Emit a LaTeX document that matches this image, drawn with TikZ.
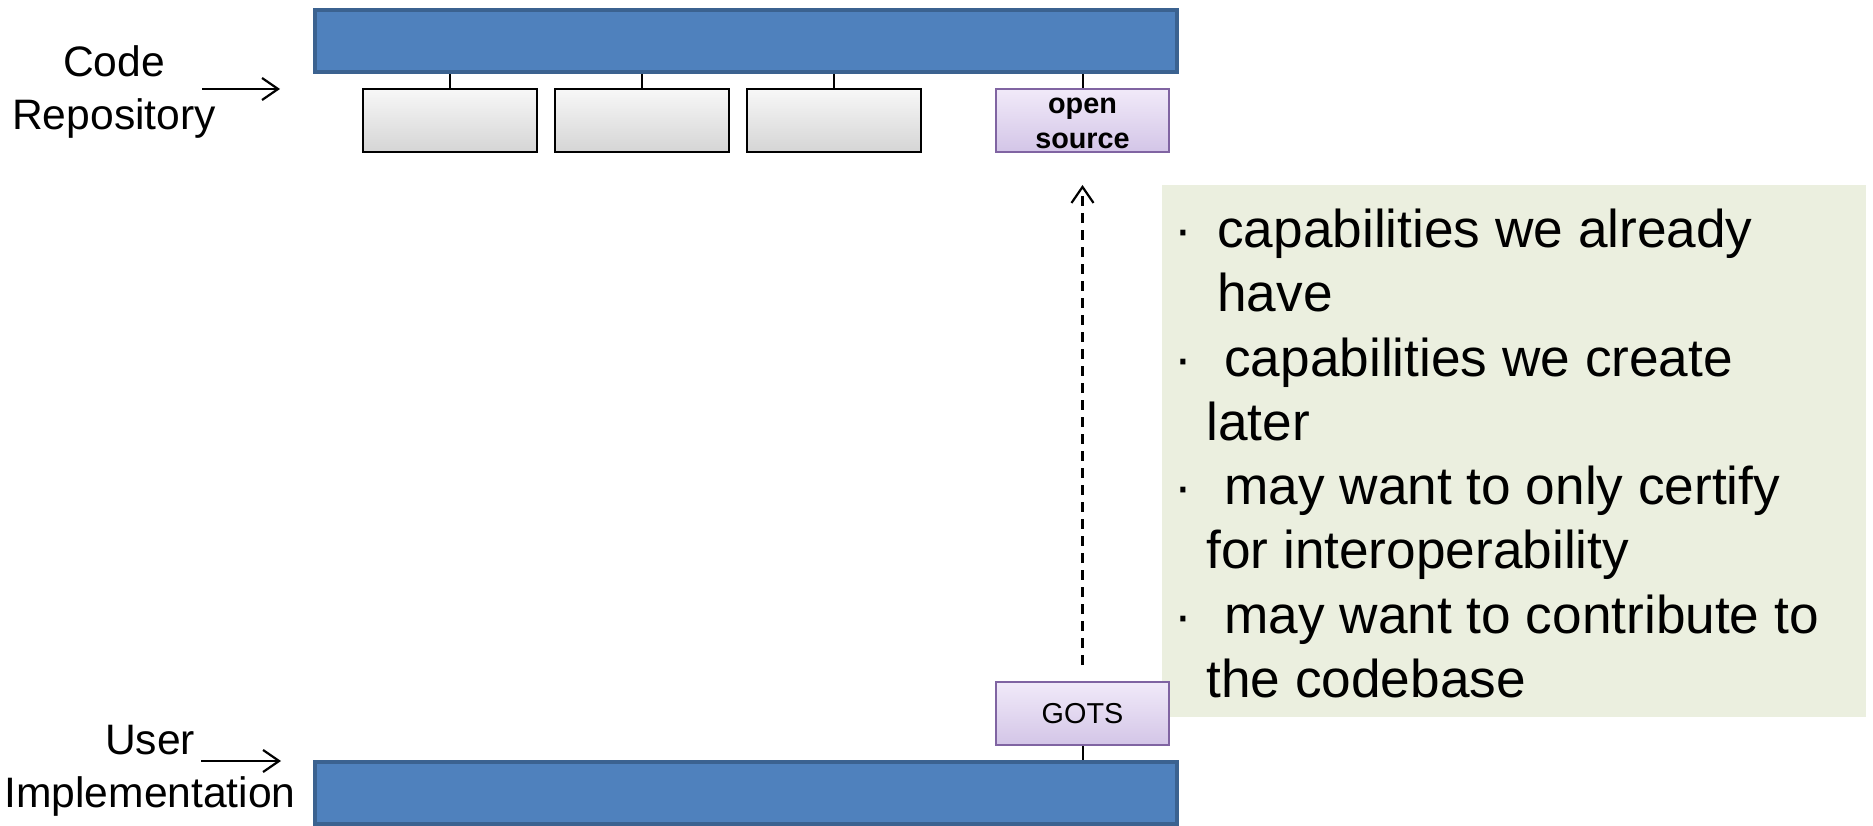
\documentclass[tikz,border=0pt]{standalone}
\usepackage{fontspec}
\setmainfont{Liberation Sans}
\usetikzlibrary{positioning,arrows.meta}
\pgfdeclarelayer{background}
\pgfsetlayers{background,main}

\definecolor{barblue}{HTML}{4F81BD}
\definecolor{baredge}{HTML}{3B6290}
\definecolor{notegreen}{HTML}{EBEFDF}
\definecolor{lilacedge}{HTML}{8064A2}
\definecolor{lilactop}{HTML}{F1EAF9}
\definecolor{lilacbot}{HTML}{D3C5E7}

\newcommand{\notedot}[1]{\makebox[#1][l]{\hspace*{-2.8pt}·}}

\begin{document}
\begin{tikzpicture}[x=0.5pt, y=0.5pt,
		bar/.style={draw=baredge, fill=barblue, line width=2.2pt, minimum width=430.8pt, minimum height=30.8pt, inner sep=0pt},
		module/.style={draw=black, line width=1pt, top color=gray!6, bottom color=gray!33, minimum width=87pt, minimum height=31.5pt, inner sep=0pt},
		lilac/.style={draw=lilacedge, line width=0.9pt, top color=lilactop, bottom color=lilacbot, minimum width=86.6pt, minimum height=31.6pt, inner sep=0pt, align=center},
		note/.style={fill=notegreen, minimum width=352pt, minimum height=266pt, inner sep=0pt},
		lbl/.style={align=center, inner sep=0pt, font=\fontsize{21.3}{26.3}\selectfont},
		link/.style={line width=1pt},
		pointer/.style={line width=1.1pt, -{Straight Barb[length=8pt,width=11pt]}},
		node distance=8pt]
	\useasboundingbox (0,0) rectangle (1873,825);

	\node[bar] (repo) at (746,784) {};
	\node[bar] (impl) at (746,32) {};

	\node[module] (modA) at (450,704.5) {};
	\node[module, right=of modA] (modB) {};
	\node[module, right=of modB] (modC) {};
	\node[lilac, right=36.5pt of modC, font=\fontsize{14.4}{17.6}\selectfont\bfseries] (oss) {\vphantom{d}open\\source};
	\node[lilac, below=264pt of oss, font=\fontsize{14.4}{17.3}\selectfont] (gots) {GOTS};

	\foreach \m in {modA,modB,modC,oss}
		\draw[link] (\m.north) -- (\m.north |- repo.south);
	\draw[link] (gots.south) -- (gots.south |- impl.north);
	\draw[pointer, dash pattern=on 5pt off 3.5pt, shorten <=8pt, shorten >=16pt] (gots) -- (oss);

	\node[lbl] (codelbl) at (114,733) {Code\\Repository};
	\node[lbl] (userlbl) at (150,54) {User\\Implementation};
	\coordinate (codetail) at (202,736);
	\coordinate (codehead) at (280,736);
	\coordinate (usertail) at (201,64);
	\coordinate (userhead) at (281,64);
	\draw[pointer] (codetail) -- (codehead);
	\draw[pointer] (usertail) -- (userhead);

	\begin{pgfonlayer}{background}
		\node[note] (notes) at (1514,374) {};
	\end{pgfonlayer}
	\node[anchor=north west, inner sep=0pt, align=left, font=\fontsize{26.6}{32.15}\selectfont] (points) at (1180,616.5)
		{\notedot{18.5pt}capabilities we already\\
		\hspace*{18.5pt}have\\
		\notedot{22pt}capabilities we create\\
		\hspace*{13pt}later\\
		\notedot{22pt}may want to only certify\\
		\hspace*{13pt}for interoperability\\
		\notedot{22pt}may want to contribute to\\
		\hspace*{13pt}the codebase};
\end{tikzpicture}
\end{document}
